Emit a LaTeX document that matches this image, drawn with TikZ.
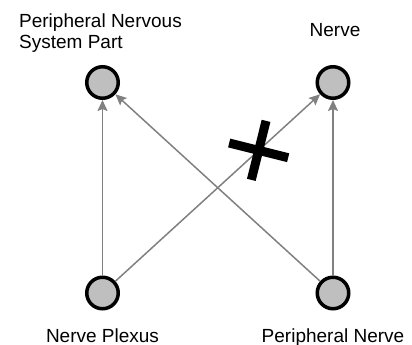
\documentclass[tikz,border=0pt]{standalone}
\usepackage{fontspec}
\setmainfont{Liberation Sans}
\usetikzlibrary{arrows.meta,positioning,shapes.misc}

\begin{document}
\begin{tikzpicture}[x=1pt, y=1pt,
node distance=0pt,
    C/.style = {circle, draw=black, line width=3.5pt,% concept circles
                fill=gray!50, minimum size=31.5pt, inner sep=0pt},
    T/.style = {font=\fontsize{19}{21}\selectfont, inner sep=0pt},
    A/.style = {draw=gray, line width=1.5pt,
                -{Stealth[length=11pt, width=10pt, inset=2pt]}},
    X/.style = {cross out, draw=black, line width=9pt,% blocked link
                minimum size=34pt, rotate=31},
                    ]
\useasboundingbox (0,0) rectangle (412,-345);
% concepts
\node[C] (pnsp)    at (102.5,-82.5)  {};
\node[C] (nerve)   at (333,-82.5)    {};
\node[C] (plexus)  at (102.5,-293)   {};
\node[C] (pnerve)  at (333,-293)     {};
% labels
\node[T, align=left, above=12pt of pnsp, xshift=-2pt] (pnspText)
    {Peripheral Nervous\\System Part};
\node[T, above=28pt of nerve, xshift=2pt] (nerveText) {Nerve};
\node[T, below=18pt of plexus] (plexusText) {Nerve Plexus};
\node[T, below=18pt of pnerve] (pnerveText) {Peripheral Nerve};
% links
\draw[A] (plexus) -- (pnsp);
\draw[A] (pnerve) -- (nerve);
\draw[A] (pnerve) -- (pnsp);
\draw[A] (plexus) -- node[X, pos=0.7] (blocked) {} (nerve);
    \end{tikzpicture}
\end{document}
